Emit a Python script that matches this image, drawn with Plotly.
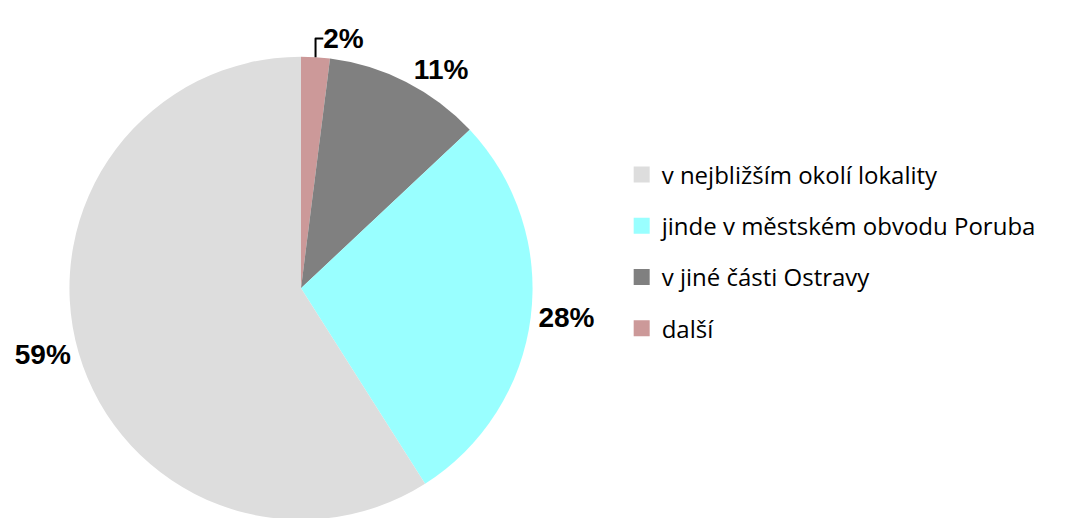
import plotly.graph_objects as go

# where respondents come from (share of answers, %), in legend order
labels = ["v nejbližším okolí lokality", "jinde v městském obvodu Poruba",
          "v jiné části Ostravy", "další"]
values = [59, 28, 11, 2]
colors = ["#DDDDDD", "#99FFFF", "#808080", "#CC9999"]

fig = go.Figure()
# slices run clockwise from 12 o'clock starting with the smallest one
fig.add_trace(go.Pie(
    labels=labels[::-1], values=values[::-1], sort=False,
    direction="clockwise", rotation=0,
    marker=dict(colors=colors[::-1], line=dict(width=0)),
    textposition="outside", texttemplate="%{percent:.0%}",
    textfont=dict(family="Liberation Sans", size=28, color="black", weight="bold"),
    domain=dict(x=[61 / 1071, 525 / 1071], y=[0.012, 0.906]),
    showlegend=False, hoverinfo="label+percent",
))

# legend entries as dummy markers so item spacing can be controlled
for i, (name, c) in enumerate(zip(labels, colors)):
    fig.add_trace(go.Scatter(
        x=[None], y=[None], mode="markers", name=name,
        marker=dict(symbol="square", size=17, color=c),
        legendgroup=str(i), showlegend=True,
    ))

fig.update_layout(
    width=1071, height=518,
    margin=dict(l=0, r=0, t=0, b=0),
    paper_bgcolor="white", plot_bgcolor="white",
    xaxis=dict(visible=False), yaxis=dict(visible=False),
    legend=dict(x=0.573, y=0.53, xanchor="left", yanchor="middle",
                font=dict(family="Open Sans", size=24, color="black"),
                tracegroupgap=17),
)

fig.write_html("out.html")
